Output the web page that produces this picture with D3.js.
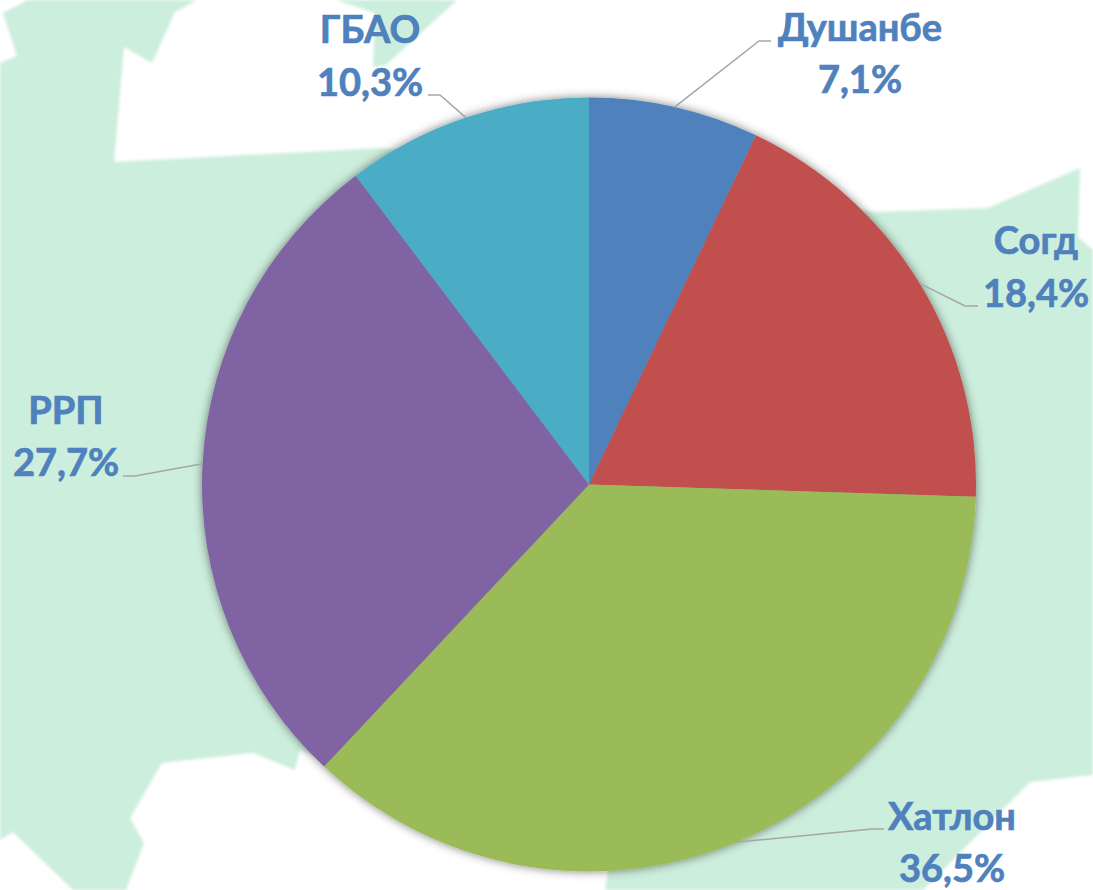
<!DOCTYPE html>
<html>
<head>
<meta charset="utf-8">
<script src="https://cdn.jsdelivr.net/npm/d3@7"></script>
<style>
    html, body { margin: 0; padding: 0; background: #fff; overflow: hidden; }
    svg { display: block; }
    .label { font-family: Lato, "Open Sans", sans-serif; font-weight: 700; fill: #4F81BD; stroke: #4F81BD; stroke-width: 0.7; text-anchor: middle; }
</style>
</head>
<body>
<script>
const regions = ["Душанбе", "Согд", "Хатлон", "РРП", "ГБАО"];
const shares = [7.1, 18.4, 36.5, 27.7, 10.3];
const sliceColours = ["#4F81BD", "#C0504D", "#9BBB59", "#8064A2", "#4BACC6"];

// label placement
const labelX = [860, 1036, 952, 66, 370];
const nameY = [41, 254, 830, 424, 43];
const valueY = [93, 307, 882, 476, 96];
const elbowX = [759, 965, 872, 135, 440];
const elbowY = [41, 306, 829, 476, 95];
const leaderEndX = [771, 978, 884, 123, 428];

// map silhouette behind the chart
const mapShapes = [
    "M3,13 L28,0 L197,0 L175,12 L152,63 L124,47 L114,162 L380,148 L875,212 L988,208 L1080,168 L1078,237 L1093,250 L1093,775 L1030,782 L923,890 L605,890 L610,860 L300,750 L295,770 L253,753 L162,763 L130,818 L144,843 L126,890 L73,890 L13,832 L0,840 L0,63 L17,56 Z",
    "M336,0 L375,13 L373,67 L386,65 L457,0 Z"
];

const width = 1093, height = 890, cx = 589, cy = 484.5, radius = 387;

const svg = d3.select("body").append("svg")
    .attr("width", width)
    .attr("height", height);

const defs = svg.append("defs");
defs.append("filter")
    .attr("id", "soft")
    .append("feGaussianBlur")
    .attr("stdDeviation", 1.4);
defs.append("filter")
    .attr("id", "shadow")
    .attr("x", "-5%").attr("y", "-5%").attr("width", "110%").attr("height", "110%")
    .append("feDropShadow")
    .attr("dx", 0).attr("dy", 0)
    .attr("stdDeviation", 5)
    .attr("flood-color", "#000")
    .attr("flood-opacity", 0.5);

svg.append("g")
    .attr("filter", "url(#soft)")
    .selectAll("path")
    .data(mapShapes)
    .enter()
    .append("path")
    .attr("d", d => d)
    .attr("fill", "#CCEEDC");

const pie = d3.pie().sort(null);
const arc = d3.arc().innerRadius(0).outerRadius(radius);
const rim = d3.arc().innerRadius(radius).outerRadius(radius);
const slices = pie(shares);

const chart = svg.append("g")
    .attr("transform", "translate(" + cx + "," + cy + ")");

chart.append("g")
    .attr("filter", "url(#shadow)")
    .selectAll("path")
    .data(slices)
    .enter()
    .append("path")
    .attr("d", arc)
    .attr("fill", (d, i) => sliceColours[i]);

// leader lines run from the middle of each slice's rim to the label
svg.append("g")
    .selectAll("polyline")
    .data(slices)
    .enter()
    .append("polyline")
    .attr("points", (d, i) => {
        const [x, y] = rim.centroid(d);
        return [[cx + x, cy + y], [elbowX[i], elbowY[i]], [leaderEndX[i], elbowY[i]]].join(" ");
    })
    .attr("fill", "none")
    .attr("stroke", "#A6A6A6")
    .attr("stroke-width", 1.5);

const labels = svg.append("g")
    .selectAll("g")
    .data(regions)
    .enter()
    .append("g")
    .attr("class", "label")
    .attr("font-size", 38);

labels.append("text")
    .attr("x", (d, i) => labelX[i])
    .attr("y", (d, i) => nameY[i])
    .text(d => d);

labels.append("text")
    .attr("x", (d, i) => labelX[i])
    .attr("y", (d, i) => valueY[i])
    .text((d, i) => shares[i].toFixed(1).replace(".", ",") + "%");
</script>
</body>
</html>
